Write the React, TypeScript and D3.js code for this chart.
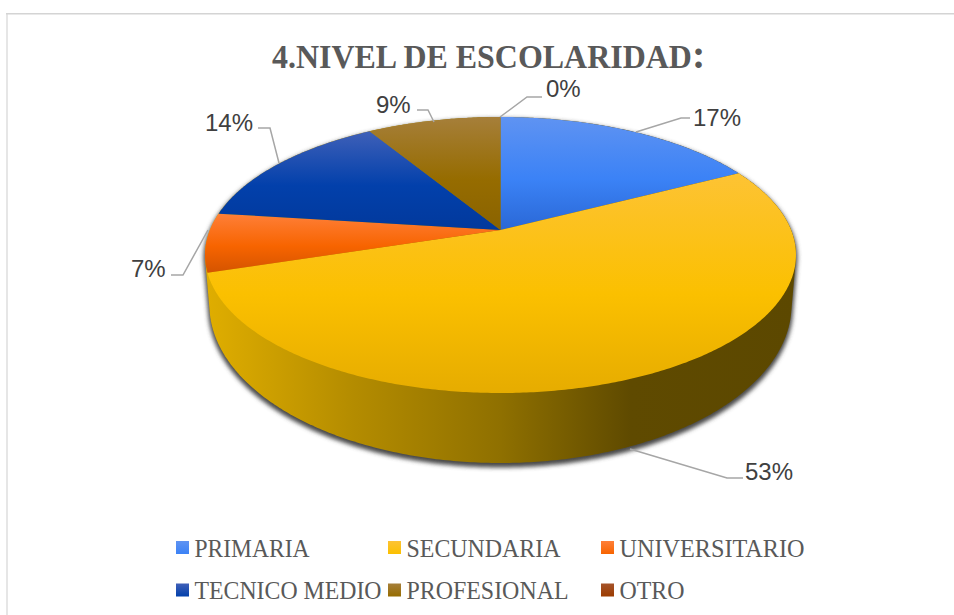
import React from "react";
import * as d3 from "d3";

const categories = ["PRIMARIA", "SECUNDARIA", "UNIVERSITARIO", "TECNICO MEDIO", "PROFESIONAL", "OTRO"];
const values = [17.4, 52.7, 6.9, 14.3, 8.7, 0];
const labels = ["17%", "53%", "7%", "14%", "9%", "0%"];
const topColors = ["#5f93f2", "#fdc334", "#ff7f38", "#3f60b8", "#a67f3a", "#a5532a"];
const midColors = ["#3b82f6", "#fbc000", "#f76400", "#0240ab", "#966c00", "#9c3c00"];
const lowColors = ["#2a68d6", "#e6ac00", "#d45400", "#02399c", "#8a6300", "#8a3400"];
const title = "4.NIVEL DE ESCOLARIDAD";

const W = 954, H = 615;
const CX = 500.5, CY = 230, K = 0.181, RX = 290.6, RY = 133.5;
const RIM_MID = 255, BASE_MID = 305, BASE_SY = 158 / 138, BASE_SX = 0.985;

function project(a: number): [number, number] {
  const X = Math.sin(a), Y = -Math.cos(a);
  const s = 1 / (1 - K * Y);
  return [CX + RX * X * s, CY + RY * Y * s];
}
function projectBase(a: number): [number, number] {
  const [x, y] = project(a);
  return [CX + (x - CX) * BASE_SX, BASE_MID + (y - RIM_MID) * BASE_SY];
}

const pie = d3.pie<number>().sort(null).startAngle(0).endAngle(2 * Math.PI);
const arcs = pie(values);
const line = d3.line();

function arcPts(a0: number, a1: number, f = project): [number, number][] {
  const n = Math.max(2, Math.ceil(Math.abs(a1 - a0) / 0.01));
  return d3.range(n + 1).map((i) => f(a0 + ((a1 - a0) * i) / n));
}

const leaders: [number, number][][] = [
  [[636, 132], [681, 118], [690, 118]],
  [[630, 449], [727, 478], [743, 478]],
  [[208, 230], [183, 275], [171, 275]],
  [[279, 163], [270, 128], [258, 128]],
  [[434, 122], [428, 110], [417, 110]],
  [[500, 117], [527, 97], [542, 97]],
];
const labelPos: [number, number][] = [[693, 126], [745, 480], [131, 277], [205, 131], [376, 113], [546, 97]];
const legendPos: [number, number][] = [[176, 541], [388, 541], [601, 541], [176, 583.5], [388, 583.5], [601, 583.5]];
const legendWidths = [115, 154, 185, 187, 162, 65];

export default function App() {
  const full = 2 * Math.PI;
  const hull = d3.polygonHull([...arcPts(0, full), ...arcPts(0, full, projectBase)]) ?? [];
  return (
    <svg width={W} height={H} viewBox={`0 0 ${W} ${H}`} style={{ position: "absolute", left: 0, top: 0, background: "#fff" }}>
      <defs>
        <filter id="blur" x="-10%" y="-10%" width="120%" height="120%">
          <feGaussianBlur stdDeviation="2.2" />
        </filter>
        <linearGradient id="wall" gradientUnits="userSpaceOnUse" x1="205" x2="796" y1="0" y2="0">
          <stop offset="0" stopColor="#e0ae00" />
          <stop offset="0.25" stopColor="#b48c00" />
          <stop offset="0.5" stopColor="#8f7000" />
          <stop offset="0.72" stopColor="#5f4a00" />
          <stop offset="1" stopColor="#5c4800" />
        </linearGradient>
        {categories.map((c, i) => (
          <linearGradient key={c} id={`g${i}`} x1="0" x2="0" y1="0" y2="1">
            <stop offset="0" stopColor={topColors[i]} />
            <stop offset="0.55" stopColor={midColors[i]} />
            <stop offset="1" stopColor={lowColors[i]} />
          </linearGradient>
        ))}
        {categories.map((c, i) => (
          <linearGradient key={c} id={`l${i}`} x1="0" x2="0" y1="0" y2="1">
            <stop offset="0" stopColor={topColors[i]} />
            <stop offset="1" stopColor={midColors[i]} />
          </linearGradient>
        ))}
      </defs>

      <path d="M7 615V14" fill="none" stroke="#e6e6e6" strokeWidth={2} />
      <path d="M6 13.7H954" fill="none" stroke="#d4d4d4" strokeWidth={1.5} />

      <text transform="translate(272,68) scale(0.94,1)" fontFamily="Liberation Serif" fontWeight="bold" fontSize={34} fill="#595959">
        {title}
      </text>
      <text x={692} y={68} fontFamily="Liberation Serif" fontWeight="bold" fontSize={40} fill="#595959">:</text>

      <path d={line(hull as [number, number][]) + "Z"} transform="translate(0,3)" fill="#4a4a4a" stroke="#4a4a4a" strokeWidth={3} filter="url(#blur)" />
      <path d={line(hull as [number, number][]) + "Z"} fill="url(#wall)" />

      {arcs.filter((a) => a.endAngle > a.startAngle).map((a) => {
        const pts: [number, number][] = [[CX, CY], ...arcPts(a.startAngle, a.endAngle)];
        return <path key={a.index} d={line(pts) + "Z"} fill={`url(#g${a.index})`} />;
      })}

      {leaders.map((l, i) => (
        <path key={i} d={line(l) ?? ""} fill="none" stroke="#a6a6a6" strokeWidth={1.5} />
      ))}
      {labels.map((t, i) => (
        <text key={t} x={labelPos[i][0]} y={labelPos[i][1]} fontFamily="Liberation Sans" fontSize={24} fill="#404040">
          {t}
        </text>
      ))}

      {categories.map((c, i) => (
        <g key={c}>
          <rect x={legendPos[i][0]} y={legendPos[i][1]} width={13} height={13} fill={`url(#l${i})`} />
          <text x={legendPos[i][0] + 18.5} y={legendPos[i][1] + 15.5} fontFamily="Liberation Serif" fontSize={25.5} fill="#595959" textLength={legendWidths[i]} lengthAdjust="spacingAndGlyphs">
            {c}
          </text>
        </g>
      ))}
    </svg>
  );
}
